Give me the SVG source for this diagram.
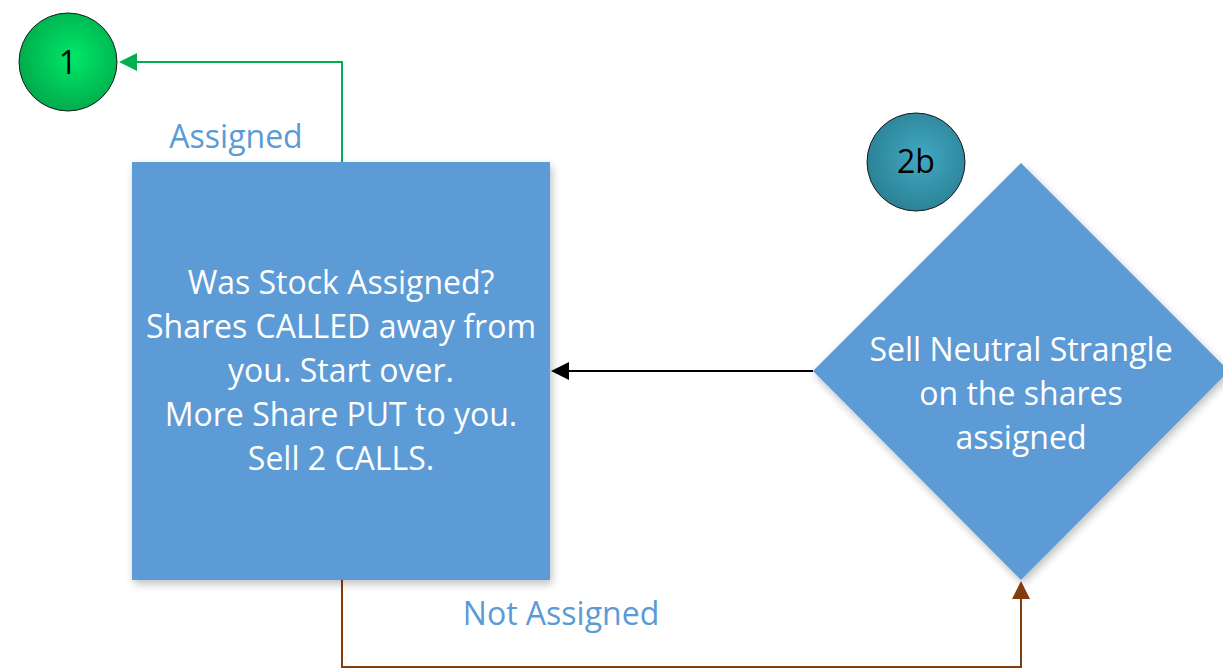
<svg xmlns="http://www.w3.org/2000/svg" width="1223" height="669" viewBox="0 0 1223 669">
<defs>
<radialGradient id="gGreen" cx="0.55" cy="0.45" r="0.6"><stop offset="0" stop-color="#00e86a"/><stop offset="1" stop-color="#00a84a"/></radialGradient>
<radialGradient id="gTeal" cx="0.55" cy="0.45" r="0.6"><stop offset="0" stop-color="#41a9c4"/><stop offset="1" stop-color="#2a7f92"/></radialGradient>
<filter id="sh" x="-10%" y="-10%" width="125%" height="125%"><feGaussianBlur in="SourceAlpha" stdDeviation="4"/><feOffset dx="2" dy="4"/><feComponentTransfer><feFuncA type="linear" slope="0.25"/></feComponentTransfer><feMerge><feMergeNode/><feMergeNode in="SourceGraphic"/></feMerge></filter>
<style>
.lbl{font-family:"Open Sans","Noto Sans",sans-serif;fill:#5b9bd5;font-size:32px;text-anchor:middle}
.wt{font-family:"Open Sans","Noto Sans",sans-serif;fill:#ffffff;font-size:32px;text-anchor:middle}
.num{font-family:"Open Sans","Noto Sans",sans-serif;fill:#000;font-size:32px;text-anchor:middle}
.shape{fill:#5b9bd5;filter:url(#sh)}
</style>
</defs>
<rect width="1223" height="669" fill="#fff"/>
<g id="connectors">
<polyline points="342,162 342,62 130,62" fill="none" stroke="#00b050" stroke-width="2"/>
<polygon points="119,62 137,53 137,71" fill="#00b050"/>
<polyline points="342,580 342,667 1021,667 1021,598" fill="none" stroke="#843c0c" stroke-width="2"/>
<polygon points="1021,581 1012,599 1030,599" fill="#843c0c"/>
<line x1="813" y1="371" x2="566" y2="371" stroke="#000" stroke-width="2"/>
<polygon points="551,371 569,362 569,380" fill="#000"/>
</g>
<g id="label-assigned"><text class="lbl" x="236" y="148">Assigned</text></g>
<g id="label-not-assigned"><text class="lbl" x="561" y="625">Not Assigned</text></g>
<g id="node-1">
<circle cx="68" cy="62" r="49" fill="url(#gGreen)" stroke="#1a1a1a" stroke-width="1"/>
<text class="num" x="68" y="74">1</text>
</g>
<g id="node-2b">
<circle cx="916" cy="162" r="49" fill="url(#gTeal)" stroke="#1a1a1a" stroke-width="1"/>
<text class="num" x="916" y="173">2b</text>
</g>
<g id="node-box">
<rect class="shape" x="132" y="162" width="418" height="418"/>
<text class="wt" x="341" y="294">Was Stock Assigned?</text>
<text class="wt" x="341" y="338">Shares CALLED away from</text>
<text class="wt" x="341" y="382">you. Start over.</text>
<text class="wt" x="341" y="426">More Share PUT to you.</text>
<text class="wt" x="341" y="470">Sell 2 CALLS.</text>
</g>
<g id="node-diamond">
<polygon class="shape" points="1021,163 1229,371 1021,580 813,371"/>
<text class="wt" x="1021" y="361">Sell Neutral Strangle</text>
<text class="wt" x="1021" y="405">on the shares</text>
<text class="wt" x="1021" y="449">assigned</text>
</g>
</svg>
